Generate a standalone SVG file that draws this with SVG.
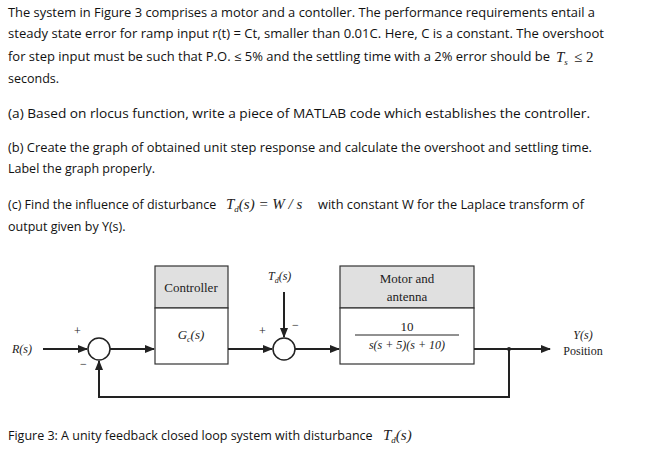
<svg xmlns="http://www.w3.org/2000/svg" width="653" height="465" viewBox="0 0 653 465">
<defs>
<style>
.t{font-family:"Open Sans","Liberation Sans",sans-serif;font-size:12.5px;fill:#111}
.m{font-family:"Liberation Serif",serif;fill:#222}
.l{stroke:#222;stroke-width:2;fill:none}
.b{stroke:#333;stroke-width:1.2}
</style>
<marker id="a" markerWidth="10" markerHeight="8" refX="9" refY="4" orient="auto" markerUnits="userSpaceOnUse"><path d="M0,0L10,4L0,8z" fill="#222"/></marker>
</defs>
<rect width="653" height="465" fill="#fff"/>
<g class="t">
<text x="8" y="17" textLength="587" lengthAdjust="spacingAndGlyphs">The  system in Figure 3 comprises a motor and a contoller. The performance requirements entail  a</text>
<text x="8" y="38" textLength="596" lengthAdjust="spacingAndGlyphs">steady state error for  ramp input r(t) = Ct, smaller than 0.01C. Here, C is a constant.  The  overshoot</text>
<text x="8" y="61" textLength="542" lengthAdjust="spacingAndGlyphs">for step input must  be such that P.O.  ≤ 5% and the settling time with a 2% error should be</text>
<text x="8" y="83">seconds.</text>
<text x="8" y="118" textLength="582" lengthAdjust="spacingAndGlyphs">(a) Based on rlocus function, write  a piece of MATLAB code which establishes the controller.</text>
<text x="8" y="152" textLength="584" lengthAdjust="spacingAndGlyphs">(b) Create the graph of obtained unit step response and calculate the overshoot and settling time.</text>
<text x="8" y="173">Label the graph properly.</text>
<text x="8" y="209">(c) Find the influence of disturbance</text>
<text x="318" y="209" textLength="266" lengthAdjust="spacingAndGlyphs">with constant W for the Laplace transform of</text>
<text x="8" y="231">output given by Y(s).</text>
<text x="8" y="440">Figure 3: A unity feedback closed loop system  with disturbance</text>
</g>
<g class="m" font-size="15">
<text x="556" y="62" font-style="italic">T<tspan font-size="9" dy="3">s</tspan></text>
<text x="574" y="62">≤ 2</text>
<text x="226" y="209" font-style="italic">T<tspan font-size="9" dy="3">d</tspan><tspan dy="-3">(s) = W / s</tspan></text>
<text x="383" y="440" font-style="italic">T<tspan font-size="9" dy="3">d</tspan><tspan dy="-3">(s)</tspan></text>
</g>
<g id="controller">
<rect x="155" y="266" width="73" height="42" fill="#e0e0e0" class="b"/>
<rect x="155" y="308" width="73" height="56" fill="#fff" class="b"/>
<text x="191" y="292" class="m" font-size="13" text-anchor="middle">Controller</text>
<text x="191" y="339" class="m" font-size="13" text-anchor="middle" font-style="italic">G<tspan font-size="8" dy="3">c</tspan><tspan dy="-3">(s)</tspan></text>
</g>
<g id="motor">
<rect x="340" y="266" width="134" height="42" fill="#e0e0e0" class="b"/>
<rect x="340" y="308" width="134" height="56" fill="#fff" class="b"/>
<text x="407" y="283" class="m" font-size="13" text-anchor="middle">Motor and</text>
<text x="407" y="301" class="m" font-size="13" text-anchor="middle">antenna</text>
<text x="407" y="331" class="m" font-size="13" text-anchor="middle">10</text>
<line x1="355" y1="335" x2="459" y2="335" stroke="#222"/>
<text x="407" y="349" class="m" font-size="12" text-anchor="middle" font-style="italic">s(s + 5)(s + 10)</text>
</g>
<g id="sum1"><circle cx="99" cy="349" r="11" fill="#fff" stroke="#222" stroke-width="1.5"/></g>
<g id="sum2"><circle cx="284" cy="349" r="11" fill="#fff" stroke="#222" stroke-width="1.5"/></g>
<g id="labels" class="m" font-size="12">
<text x="12" y="353" font-style="italic">R(s)</text>
<text x="74" y="335">+</text>
<text x="80" y="368">−</text>
<text x="259" y="335">+</text>
<text x="292" y="329">−</text>
<text x="268" y="280" font-style="italic">T<tspan font-size="8" dy="3">d</tspan><tspan dy="-3">(s)</tspan></text>
<text x="583" y="339" font-style="italic" text-anchor="middle">Y(s)</text>
<text x="583" y="355" text-anchor="middle">Position</text>
</g>
<g id="connectors" class="l">
<line x1="43" y1="349" x2="87" y2="349" marker-end="url(#a)"/>
<line x1="110" y1="349" x2="154" y2="349" marker-end="url(#a)"/>
<line x1="228" y1="349" x2="272" y2="349" marker-end="url(#a)"/>
<line x1="284" y1="292" x2="284" y2="337" marker-end="url(#a)"/>
<line x1="295" y1="349" x2="339" y2="349" marker-end="url(#a)"/>
<line x1="474" y1="349" x2="550" y2="349" marker-end="url(#a)"/>
<polyline points="509,349 509,397 99,397 99,361" marker-end="url(#a)"/>
</g>
<circle cx="509" cy="349" r="2" fill="#222"/>
</svg>
